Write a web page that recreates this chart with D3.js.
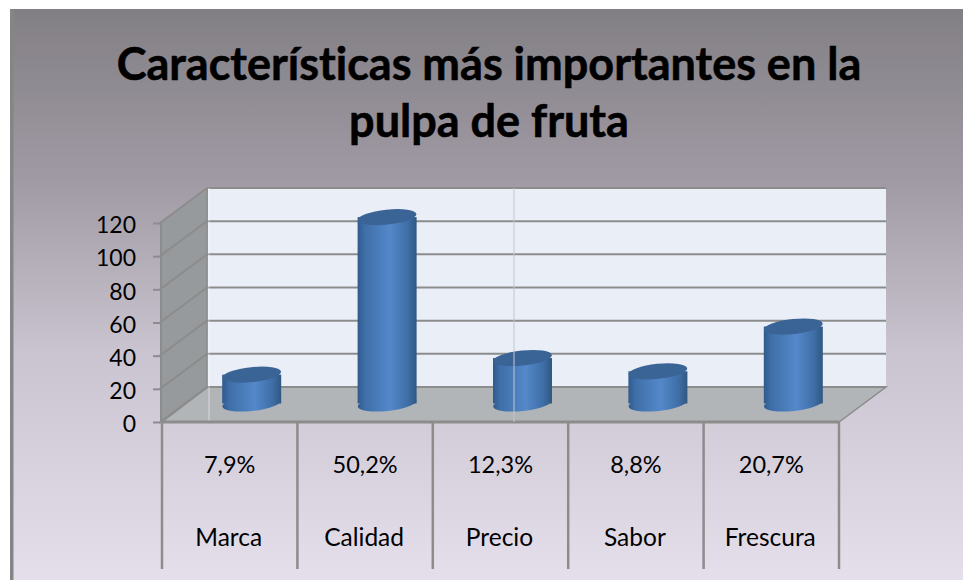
<!DOCTYPE html>
<html><head><meta charset="utf-8">
<script src="https://cdnjs.cloudflare.com/ajax/libs/d3/7.8.5/d3.min.js"></script>
<style>html,body{margin:0;background:#fff}svg{display:block}text{font-family:Lato,"Open Sans",sans-serif;fill:#000;font-variant-ligatures:none}</style>
</head><body><div id="c"></div>
<script>
const categories=["Marca","Calidad","Precio","Sabor","Frescura"];
const percents=["7,9%","50,2%","12,3%","8,8%","20,7%"];
const values=[18,113,28,20,47];
const yTicks=[0,20,40,60,80,100,120];
const titleLines=["Características más importantes en la","pulpa de fruta"];

const W=963,H=580;
const svg=d3.select("#c").append("svg").attr("width",W).attr("height",H);
const defs=svg.append("defs");
const bg=defs.append("linearGradient").attr("id","bg").attr("x1",0).attr("x2",0).attr("y1",0).attr("y2",1);
[[0,"#827f84"],[.3,"#a09aa4"],[.6,"#cac4d0"],[1,"#e5dfec"]].forEach(s=>bg.append("stop").attr("offset",s[0]).attr("stop-color",s[1]));
const cyl=defs.append("linearGradient").attr("id","cyl");
[[0,"#2f5a8c"],[.12,"#3f6fa8"],[.55,"#5488ca"],[.85,"#3f6ea6"],[1,"#2f5882"]].forEach(s=>cyl.append("stop").attr("offset",s[0]).attr("stop-color",s[1]));

svg.append("rect").attr("x",10).attr("y",9).attr("width",W-10).attr("height",H-9).attr("fill","url(#bg)");
svg.append("rect").attr("x",10).attr("y",9).attr("width",3.5).attr("height",H-9).attr("fill","#858585");

const title=svg.append("g");
titleLines.forEach((t,i)=>title.append("text").attr("x",489).attr("y",80+i*57).attr("text-anchor","middle")
  .attr("font-size",45).attr("font-weight",700).attr("stroke","#000").attr("stroke-width",0.6).text(t));

const x=d3.scaleBand().domain(categories).range([162,839]);
const y=d3.scaleLinear().domain([0,120]).range([422,223]);
const dx=46,dy=-35;
const grey="#8c8c8c";
const g=svg.append("g");
const pts=p=>p.map(d=>d.join(",")).join(" ");
const [x0,x1]=x.range();

g.append("rect").attr("x",x0+dx).attr("y",y(120)+dy).attr("width",x1-x0+1).attr("height",y(0)-y(120)).attr("fill","#e9eef7");
g.append("polygon").attr("points",pts([[x0-2,y(120)],[x0+dx-1,y(120)+dy],[x0+dx-1,y(0)+dy],[x0,y(0)]])).attr("fill","#979a9d");
g.append("polygon").attr("points",pts([[x0,y(0)],[x0+dx,y(0)+dy],[x1+dx+1,y(0)+dy],[x1,y(0)]])).attr("fill","#b2b5b8").attr("stroke",grey).attr("stroke-width",1.5);

const gx0=x0+dx-1,gx1=x1+dx+1;
g.selectAll("line.grid").data(yTicks).join("line").attr("class","grid")
  .attr("x1",gx0).attr("x2",gx1).attr("y1",d=>y(d)+dy).attr("y2",d=>y(d)+dy).attr("stroke",grey).attr("stroke-width",2);
g.selectAll("line.side").data(yTicks).join("line").attr("class","side")
  .attr("x1",x0-2).attr("x2",gx0).attr("y1",d=>y(d)).attr("y2",d=>y(d)+dy).attr("stroke",grey).attr("stroke-width",2);
g.append("line").attr("x1",gx0).attr("x2",gx0).attr("y1",y(120)+dy).attr("y2",y(0)+dy).attr("stroke",grey).attr("stroke-width",1.5);
g.append("line").attr("x1",x0-1).attr("x2",x0-1).attr("y1",y(120)).attr("y2",y(0)).attr("stroke",grey).attr("stroke-width",2);
g.append("line").attr("x1",209).attr("x2",209).attr("y1",y(120)+dy).attr("y2",y(0)).attr("stroke","#fff").attr("stroke-opacity",.5);

const ax=d3.axisLeft(y).tickValues(yTicks).tickSize(8).tickPadding(17);
const ag=g.append("g").attr("transform",`translate(${x0-1},0)`).call(ax);
ag.select(".domain").remove();
ag.selectAll("line").attr("stroke",grey).attr("stroke-width",2);
ag.selectAll("text").attr("font-size",23).attr("font-family","Lato").attr("dy","0.42em");

g.append("line").attr("x1",x0).attr("x2",x1).attr("y1",y(0)).attr("y2",y(0)).attr("stroke",grey).attr("stroke-width",3);
const divs=[...categories.map(c=>x(c)),x1];
g.selectAll("line.div").data(divs).join("line").attr("class","div")
  .attr("x1",d=>d).attr("x2",d=>d).attr("y1",y(0)).attr("y2",569).attr("stroke",grey).attr("stroke-width",2.5);

// cylinders sit mid-depth of the floor
const rx=29.5,ry=7.5,tilt=-6;
const midDy=dy/2;
const bars=g.selectAll("g.bar").data(values).join("g").attr("class","bar");
const cx=(d,i)=>x(categories[i])+x.bandwidth()/2+dx/2-1;
bars.append("ellipse").attr("fill","url(#cyl)")
  .attr("cx",cx).attr("cy",y(0)+midDy-1).attr("rx",rx).attr("ry",ry)
  .attr("transform",(d,i)=>`rotate(${tilt} ${cx(d,i)} ${y(0)+midDy-1})`);
bars.append("rect").attr("fill","url(#cyl)")
  .attr("x",(d,i)=>cx(d,i)-rx).attr("width",2*rx).attr("y",d=>y(d)+midDy).attr("height",d=>y(0)-y(d)-1);
bars.append("ellipse").attr("fill","#3a6496")
  .attr("cx",cx).attr("cy",d=>y(d)+midDy).attr("rx",rx).attr("ry",ry)
  .attr("transform",(d,i)=>`rotate(${tilt} ${cx(d,i)} ${y(d)+midDy})`);
// faint vertical rule runs over the marks
g.append("line").attr("x1",514).attr("x2",514).attr("y1",y(120)+dy).attr("y2",y(0)).attr("stroke","#c4c6cc").attr("stroke-width",1);

g.selectAll("text.pct").data(percents).join("text").attr("class","pct")
  .attr("x",(d,i)=>x(categories[i])+x.bandwidth()/2).attr("y",473).attr("text-anchor","middle").attr("font-size",23.5).text(d=>d);
g.selectAll("text.cat").data(categories).join("text").attr("class","cat")
  .attr("x",d=>x(d)+x.bandwidth()/2-1).attr("y",546).attr("text-anchor","middle").attr("font-size",24.5).text(d=>d);
</script></body></html>
